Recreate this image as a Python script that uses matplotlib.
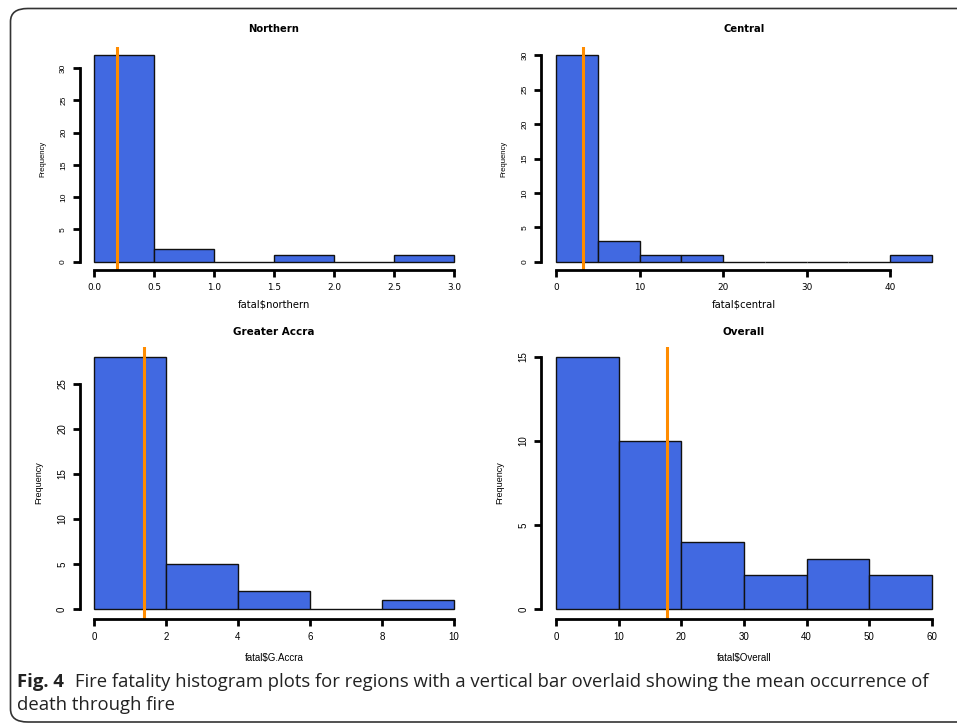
import numpy as np
import matplotlib
matplotlib.use("Agg")
import matplotlib.pyplot as plt
from matplotlib.patches import FancyBboxPatch

# histogram data
titles = ["Northern", "Central", "Greater Accra", "Overall"]
xlabels = ["fatal$northern", "fatal$central", "fatal$G.Accra", "fatal$Overall"]
northern_edges = [0, 0.5, 1.0, 1.5, 2.0, 2.5, 3.0]
northern_counts = [32, 2, 0, 1, 0, 1]
central_edges = [0, 5, 10, 15, 20, 25, 30, 35, 40, 45]
central_counts = [30, 3, 1, 1, 0, 0, 0, 0, 1]
accra_edges = [0, 2, 4, 6, 8, 10]
accra_counts = [28, 5, 2, 0, 1]
overall_edges = [0, 10, 20, 30, 40, 50, 60]
overall_counts = [15, 10, 4, 2, 3, 2]
means = [0.19, 3.25, 1.39, 17.65]

xticks = [
    [0.0, 0.5, 1.0, 1.5, 2.0, 2.5, 3.0],
    [0, 10, 20, 30, 40],
    [0, 2, 4, 6, 8, 10],
    [0, 10, 20, 30, 40, 50, 60],
]
xticklabels = [
    ["0.0", "0.5", "1.0", "1.5", "2.0", "2.5", "3.0"],
    ["0", "10", "20", "30", "40"],
    ["0", "2", "4", "6", "8", "10"],
    ["0", "10", "20", "30", "40", "50", "60"],
]
yticks = [
    [0, 5, 10, 15, 20, 25, 30],
    [0, 5, 10, 15, 20, 25, 30],
    [0, 5, 10, 15, 20, 25],
    [0, 5, 10, 15],
]

all_edges = [northern_edges, central_edges, accra_edges, overall_edges]
all_counts = [northern_counts, central_counts, accra_counts, overall_counts]

W, H = 957, 723
fig = plt.figure(figsize=(W / 100, H / 100), dpi=100)
plt.rcParams["font.family"] = ["Liberation Sans", "DejaVu Sans"]

# plot regions in pixels: left, top, right, bottom
boxes = [
    (79.6, 47, 468.4, 270),
    (541, 47, 947, 270),
    (79.6, 347, 468.4, 619),
    (541, 347, 947, 619),
]
title_y = [29, 29, 332, 332]
title_fs = [7.2, 7.2, 7.5, 7.5]
tick_fs = [6, 6, 7, 7]
ylab_fs = [5.5, 5.5, 6.5, 6.5]
wide = ["DejaVu Sans"]
narrow = ["Liberation Sans", "DejaVu Sans"]

for i in range(4):
    top_row = i < 2
    l, t, r, b = boxes[i]
    ax = fig.add_axes([l / W, 1 - b / H, (r - l) / W, (b - t) / H])
    edges = np.array(all_edges[i], dtype=float)
    counts = np.array(all_counts[i], dtype=float)
    ax.bar(edges[:-1], counts, width=np.diff(edges), align="edge",
           color="#4169E1", edgecolor="#111111", linewidth=1.0)
    xr = edges[-1] - edges[0]
    ax.set_xlim(edges[0] - 0.04 * xr, edges[-1] + 0.04 * xr)
    ymax = counts.max()
    ax.set_ylim(-0.04 * ymax, 1.04 * ymax)
    ax.axvline(means[i], color="#FF8C00", linewidth=2.2)

    for s in ["top", "right"]:
        ax.spines[s].set_visible(False)
    ax.spines["left"].set_linewidth(2)
    ax.spines["bottom"].set_linewidth(2)
    ax.spines["left"].set_bounds(yticks[i][0], yticks[i][-1])
    ax.spines["bottom"].set_bounds(xticks[i][0], xticks[i][-1])
    ax.set_xticks(xticks[i])
    ax.set_yticks(yticks[i])
    ax.set_yticklabels([str(v) for v in yticks[i]], rotation=90, va="center",
                       family=narrow, fontsize=tick_fs[i])
    if top_row:
        ax.set_xticklabels(xticklabels[i], family=wide, fontsize=6.4)
        ax.set_xlabel(xlabels[i], family=wide, fontsize=7.2, labelpad=6)
    else:
        ax.set_xticklabels(xticklabels[i], family=narrow, fontsize=7)
        ax.set_xlabel(xlabels[i], family=narrow, fontsize=7, labelpad=8)
    ax.tick_params(direction="out", length=5, width=2, pad=4, colors="black")
    ax.set_ylabel("Frequency", fontsize=ylab_fs[i], labelpad=10)
    ax.patch.set_visible(False)
    fig.text((l + r) / 2 / W, 1 - title_y[i] / H, titles[i], ha="center",
             va="center", fontsize=title_fs[i], fontweight="bold", family=wide)

# rounded frame around the figure
frame = FancyBboxPatch((10.5 / W, 1 - 722 / H), 2, (722 - 8.5) / H,
                       boxstyle="round,pad=0,rounding_size=0.018",
                       transform=fig.transFigure, fill=False,
                       edgecolor="#333333", linewidth=1.2, clip_on=False)
fig.patches.append(frame)

# caption
cap_font = ["Open Sans", "DejaVu Sans"]
fig.text(17 / W, 1 - 687 / H, "Fig. 4", fontsize=13.3, fontweight="bold",
         family=cap_font, va="baseline", color="#222222")
fig.text(75 / W, 1 - 687 / H,
         "Fire fatality histogram plots for regions with a vertical bar overlaid "
         "showing the mean occurrence of",
         fontsize=13.3, family=cap_font, va="baseline", color="#222222")
fig.text(17 / W, 1 - 710 / H, "death through fire", fontsize=13.3,
         family=cap_font, va="baseline", color="#222222")

fig.savefig("out.png", dpi=100)
